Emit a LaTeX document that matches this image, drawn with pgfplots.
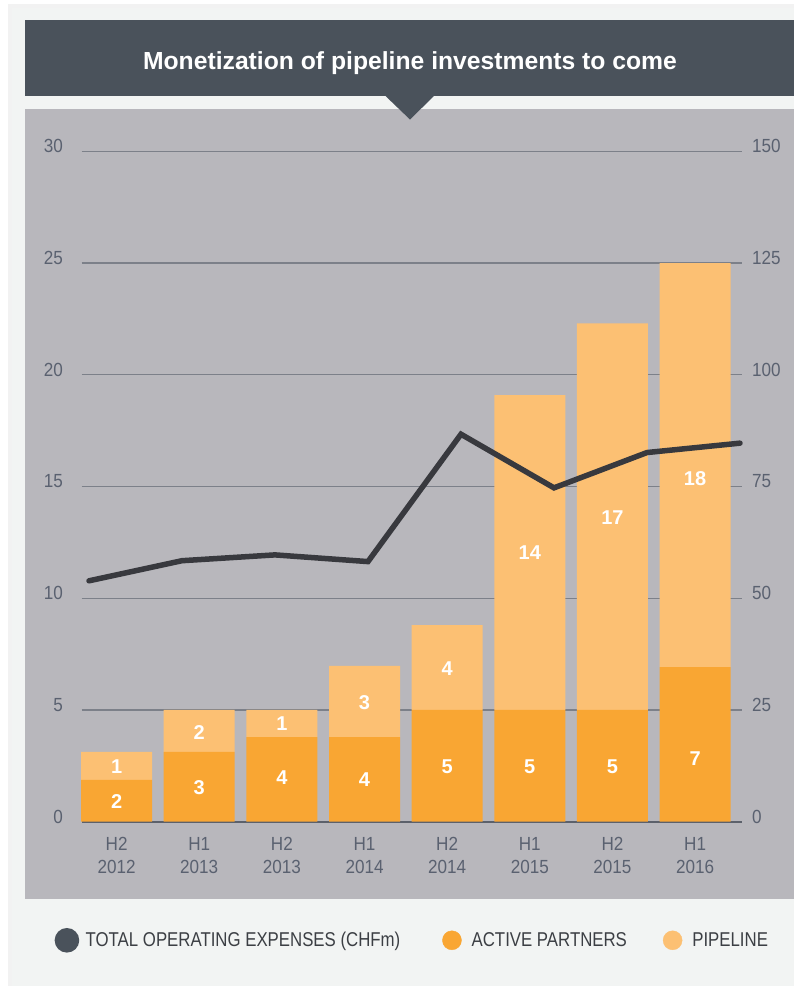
\documentclass[border=0pt]{standalone}
\usepackage{pgfplots}
\pgfplotsset{compat=1.18}
\usepackage{fontspec}
\setmainfont{Liberation Sans}
\newfontfamily\tickfont[FakeStretch=0.9]{Liberation Sans}
\newfontfamily\legfont[FakeStretch=0.84]{Liberation Sans}
\definecolor{panelbg}{HTML}{F2F4F3}
\definecolor{band}{HTML}{4A525B}
\definecolor{plotbg}{HTML}{B8B7BC}
\definecolor{gridc}{HTML}{7C8089}
\definecolor{zeroc}{HTML}{5C616B}
\definecolor{tickc}{HTML}{5A6170}
\definecolor{activec}{HTML}{F9A633}
\definecolor{pipec}{HTML}{FCC073}
\definecolor{linec}{HTML}{38393E}
\definecolor{legtext}{HTML}{3C3F44}

\pgfplotstableread{
x y
0 1.87
1 3.12
2 3.79
3 3.79
4 5.00
5 5.00
6 5.00
7 6.92
}\activetab
\pgfplotstableread{
x y
0 1.25
1 1.88
2 1.21
3 3.18
4 3.80
5 14.09
6 17.30
7 18.08
}\pipetab
\pgfplotstableread{
x y
0 53.9
1 58.4
2 59.7
3 58.2
4 86.7
5 74.7
6 82.6
7 84.7
}\opextab
\pgfplotstableread{
x y lab
0 0.895 2
1 1.52 3
2 1.97 4
3 1.87 4
4 2.46 5
5 2.46 5
6 2.46 5
7 2.84 7
0 2.46 1
1 4.00 2
2 4.37 1
3 5.34 3
4 6.83 4
5 12.05 14
6 13.60 17
7 15.36 18
}\labtab

\begin{document}
\begin{tikzpicture}
\begin{scope}[x=1pt,y=-1pt]
\fill[white] (0,0) rectangle (794,986);
\fill[black!5] (8,4) rectangle (794,986);
\fill[panelbg] (12,8) rectangle (794,986);
\fill[band] (25,20) rectangle (794,96);
\fill[plotbg] (25,109) rectangle (794,899);
\fill[band] (385,95.5) -- (434.5,95.5) -- (410,119.5) -- cycle;
\node[anchor=base, inner sep=0pt, text=white, font=\fontsize{24.7}{29}\selectfont\bfseries] at (410,69) {Monetization of pipeline investments to come};
\end{scope}

% bars
\begin{axis}[
  at={(81.5pt,-821.7pt)}, anchor=south west,
  scale only axis, width=660.5pt, height=670.4pt,
  xmin=-0.4247, xmax=7.5678, ymin=0, ymax=30,
  ybar stacked, bar width=0.859,
  axis line style={draw=none},
  major tick length=0pt,
  ytick={5,10,...,30},
  extra y ticks={0},
  extra y tick style={grid style={color=zeroc, line width=2pt}},
  ymajorgrids,
  grid style={color=gridc, line width=1.4pt},
  xtick={0,...,7},
  xticklabels={{H2\\2012},{H1\\2013},{H2\\2013},{H1\\2014},{H2\\2014},{H1\\2015},{H2\\2015},{H1\\2016}},
  xticklabel style={align=center, anchor=north, inner sep=0pt, yshift=-15.5pt, font=\tickfont\fontsize{19}{23.3}\selectfont, text=tickc},
  yticklabel style={anchor=east, inner sep=0pt, xshift=-18.5pt, yshift=5pt, font=\tickfont\fontsize{19}{23}\selectfont, text=tickc},
  /pgf/number format/assume math mode=true,
  clip=false,
]
\addplot[fill=activec, draw=none] table[x=x, y=y] {\activetab};
\addplot[fill=pipec, draw=none] table[x=x, y=y] {\pipetab};
\end{axis}

% bar labels
\begin{axis}[
  at={(81.5pt,-821.7pt)}, anchor=south west,
  scale only axis, width=660.5pt, height=670.4pt,
  xmin=-0.4247, xmax=7.5678, ymin=0, ymax=30,
  hide axis, clip=false,
]
\addplot[only marks, mark=none, nodes near coords, point meta=explicit symbolic,
  every node near coord/.append style={anchor=center, inner sep=0pt, text=white, font=\fontsize{20}{24}\selectfont\bfseries}]
  table[x=x, y=y, meta=lab] {\labtab};
\end{axis}

% line + right axis + legend
\begin{axis}[
  at={(81.5pt,-821.7pt)}, anchor=south west,
  scale only axis, width=660.5pt, height=670.4pt,
  xmin=-0.0806, xmax=7.0215, ymin=0, ymax=150,
  axis line style={draw=none}, major tick length=0pt,
  xtick=\empty, ytick={0,25,...,150},
  yticklabel pos=right,
  yticklabel style={anchor=west, inner sep=0pt, xshift=10pt, yshift=5pt, font=\tickfont\fontsize{19}{23}\selectfont, text=tickc},
  /pgf/number format/assume math mode=true,
  clip=false,
  legend columns=3,
  legend style={at={(-0.0409,-0.1769)}, anchor=west, draw=none, fill=none, inner sep=0pt,
    nodes={inner sep=0pt},
    font=\legfont\fontsize{20}{24}\selectfont, text=legtext,
    /tikz/column 1/.style={column sep=6.5pt},
    /tikz/column 2/.style={column sep=42pt},
    /tikz/column 3/.style={column sep=10pt},
    /tikz/column 4/.style={column sep=36pt},
    /tikz/column 5/.style={column sep=10pt}},
]
\addplot[color=linec, line width=5.5pt, line cap=round,
  legend image code/.code={\fill[band] (9.5pt,0pt) circle (9.5pt);}]
  table[x=x, y=y] {\opextab};
\addlegendentry{TOTAL OPERATING EXPENSES (CHFm)}
\addlegendimage{legend image code/.code={\fill[activec] (9.5pt,0pt) circle (9.5pt);}}
\addlegendentry{ACTIVE PARTNERS}
\addlegendimage{legend image code/.code={\fill[pipec] (9.5pt,0pt) circle (9.5pt);}}
\addlegendentry{PIPELINE}
\end{axis}

\pgfresetboundingbox
\path (0pt,0pt) rectangle (794pt,-986pt);
\end{tikzpicture}
\end{document}
